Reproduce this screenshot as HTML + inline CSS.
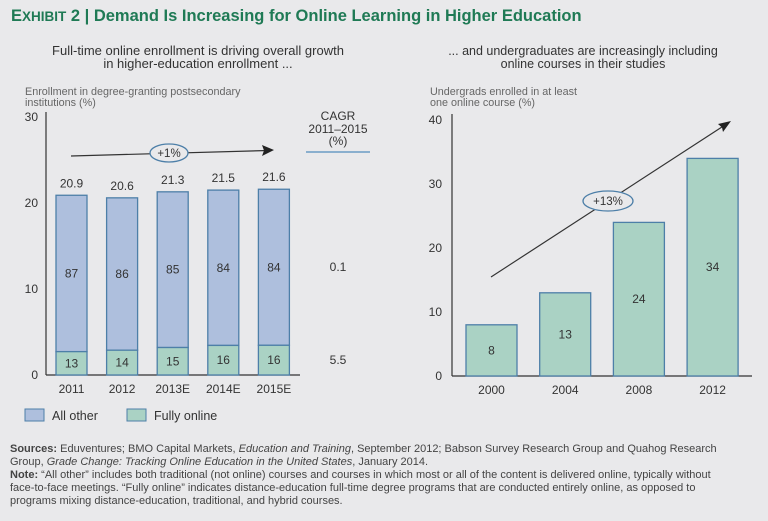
<!DOCTYPE html>
<html><head><meta charset="utf-8"><style>
html,body{margin:0;padding:0;background:#e9e9eb;}
body{width:768px;height:516px;overflow:hidden;font-family:"Liberation Sans",sans-serif;}
svg text{font-family:"Liberation Sans",sans-serif;}
</style></head><body>
<svg id="c" width="768" height="516" viewBox="0 0 768 516">
<rect width="768" height="516" fill="#e9e9eb"/>
<text x="11" y="21" font-size="16.5" font-weight="bold" fill="#1f7a55">E<tspan font-size="13.5">XHIBIT</tspan> 2 | Demand Is Increasing for Online Learning in Higher Education</text>
<text x="198" y="55" font-size="13" fill="#333" text-anchor="middle"><tspan x="198">Full-time online enrollment is driving overall growth</tspan><tspan x="198" dy="13">in higher-education enrollment ...</tspan></text>
<text x="583" y="55" font-size="12.5" fill="#333" text-anchor="middle"><tspan x="583">... and undergraduates are increasingly including</tspan><tspan x="583" dy="13">online courses in their studies</tspan></text>
<text x="25" y="95" font-size="10.8" fill="#666"><tspan x="25">Enrollment in degree-granting postsecondary</tspan><tspan x="25" dy="11">institutions (%)</tspan></text>
<text x="430" y="95" font-size="10.8" fill="#666"><tspan x="430">Undergrads enrolled in at least</tspan><tspan x="430" dy="11">one online course (%)</tspan></text>
<g text-anchor="middle" font-size="12" fill="#333">
<text x="338" y="120">CAGR</text><text x="338" y="133">2011–2015</text><text x="338" y="145">(%)</text>
</g>
<line x1="306" y1="152" x2="370" y2="152" stroke="#6a9cc4" stroke-width="1.5"/>
<g id="left"></g><g id="right"></g>
<g>
<rect x="25" y="409" width="19" height="12" fill="#aebfdd" stroke="#4d7fa8"/>
<text x="52" y="420" font-size="12.5" fill="#333">All other</text>
<rect x="127" y="409" width="19" height="12" fill="#aad2c4" stroke="#4d7fa8"/>
<text x="154" y="420" font-size="12.5" fill="#333">Fully online</text>
</g>
<g font-size="11" fill="#444">
<text x="10" y="452"><tspan font-weight="bold">Sources:</tspan> Eduventures; BMO Capital Markets, <tspan font-style="italic">Education and Training</tspan>, September 2012; Babson Survey Research Group and Quahog Research</text>
<text x="10" y="465">Group, <tspan font-style="italic">Grade Change: Tracking Online Education in the United States</tspan>, January 2014.</text>
<text x="10" y="478"><tspan font-weight="bold">Note:</tspan> “All other” includes both traditional (not online) courses and courses in which most or all of the content is delivered online, typically without</text>
<text x="10" y="491">face-to-face meetings. “Fully online” indicates distance-education full-time degree programs that are conducted entirely online, as opposed to</text>
<text x="10" y="504">programs mixing distance-education, traditional, and hybrid courses.</text>
</g>
</svg>
<script>
const leftCategories=["2011","2012","2013E","2014E","2015E"];
const leftTotals=[20.9,20.6,21.3,21.5,21.6];
const leftOtherShare=[87,86,85,84,84];
const leftOnlineShare=[13,14,15,16,16];
const leftTicks=[0,10,20,30];
const cagrValues=["0.1","5.5"];
const rightCategories=["2000","2004","2008","2012"];
const rightValues=[8,13,24,34];
const rightTicks=[0,10,20,30,40];
const NS="http://www.w3.org/2000/svg";
function mk(parent,tag,attrs,txt){const e=document.createElementNS(NS,tag);for(const k in attrs)e.setAttribute(k,attrs[k]);if(txt!==undefined)e.textContent=txt;parent.appendChild(e);return e;}
// left chart
const L=document.getElementById('left');
const lBase=375,lScale=8.6,lX0=46,lStep=50.6,lFirst=71.5,lW=31;
const ly=v=>lBase-v*lScale, lx=i=>lFirst+i*lStep;
let ax=mk(L,'line',{x1:lX0,y1:112,x2:lX0,y2:lBase,stroke:'#333','stroke-width':1.2});


ax=mk(L,'line',{x1:lX0,y1:lBase,x2:300,y2:lBase,stroke:'#333','stroke-width':1.2});


leftTicks.forEach(t=>{const e=mk(L,'text',{x:38,y:ly(t)+4,'font-size':12,fill:'#333','text-anchor':'end'},t);

});
leftCategories.forEach((c,i)=>{
 const tot=leftTotals[i],on=tot*leftOnlineShare[i]/100;
 const x=lx(i)-lW/2;
 const r1=mk(L,'rect',{x:x,y:ly(tot),width:lW,height:(tot-on)*lScale,fill:'#aebfdd',stroke:'#4d7fa8','stroke-width':1.3});
 
 
 const r2=mk(L,'rect',{x:x,y:ly(on),width:lW,height:on*lScale,fill:'#aad2c4',stroke:'#4d7fa8','stroke-width':1.3});
 
 
 let t=mk(L,'text',{x:lx(i),y:ly(tot)-8,'font-size':12,fill:'#333','text-anchor':'middle'},tot.toFixed(1));
 
 
 t=mk(L,'text',{x:lx(i),y:(ly(tot)+ly(on))/2+4,'font-size':12,fill:'#333','text-anchor':'middle'},leftOtherShare[i]);
 
 
 t=mk(L,'text',{x:lx(i),y:(ly(on)+lBase)/2+4,'font-size':12,fill:'#333','text-anchor':'middle'},leftOnlineShare[i]);
 
 
 t=mk(L,'text',{x:lx(i),y:lBase+18,'font-size':12,fill:'#333','text-anchor':'middle'},c);
 
 
});
let cg=mk(L,'text',{x:338,y:271,'font-size':12,fill:'#333','text-anchor':'middle'},cagrValues[0]);


cg=mk(L,'text',{x:338,y:364,'font-size':12,fill:'#333','text-anchor':'middle'},cagrValues[1]);


let ar=mk(L,'line',{x1:71,y1:156,x2:268,y2:150.5,stroke:'#333','stroke-width':1.2});


ar=mk(L,'polygon',{points:'274,150 262,145 264,150.5 262,156',fill:'#222'});


ar=mk(L,'ellipse',{cx:169,cy:153,rx:19,ry:9,fill:'#e9e9eb',stroke:'#4d7fa8','stroke-width':1.3});


ar=mk(L,'text',{x:169,y:157,'font-size':11.5,fill:'#333','text-anchor':'middle'},'+1%');


// right chart
const R=document.getElementById('right');
const rBase=376,rScale=6.4,rX0=452,rFirst=491.5,rStep=73.7,rW=51;
const ry=v=>rBase-v*rScale, rx=i=>rFirst+i*rStep;
ax=mk(R,'line',{x1:rX0,y1:114,x2:rX0,y2:rBase,stroke:'#333','stroke-width':1.2});


ax=mk(R,'line',{x1:rX0,y1:rBase,x2:752,y2:rBase,stroke:'#333','stroke-width':1.2});


rightTicks.forEach(t=>{const e=mk(R,'text',{x:442,y:ry(t)+4,'font-size':12,fill:'#333','text-anchor':'end'},t);

});
rightCategories.forEach((c,i)=>{
 const v=rightValues[i];
 const r=mk(R,'rect',{x:rx(i)-rW/2,y:ry(v),width:rW,height:v*rScale,fill:'#aad2c4',stroke:'#4d7fa8','stroke-width':1.3});
 
 
 let t=mk(R,'text',{x:rx(i),y:(ry(v)+rBase)/2+4,'font-size':12,fill:'#333','text-anchor':'middle'},v);
 
 
 t=mk(R,'text',{x:rx(i),y:rBase+18,'font-size':12,fill:'#333','text-anchor':'middle'},c);
 
 
});
ar=mk(R,'line',{x1:491,y1:277,x2:725,y2:125,stroke:'#333','stroke-width':1.2});


ar=mk(R,'polygon',{points:'731,121 718,124 722,127.5 723,132',fill:'#222'});


ar=mk(R,'ellipse',{cx:608,cy:201,rx:25,ry:10,fill:'#e9e9eb',stroke:'#4d7fa8','stroke-width':1.3});


ar=mk(R,'text',{x:608,y:205,'font-size':11.5,fill:'#333','text-anchor':'middle'},'+13%');


</script>
</body></html>
